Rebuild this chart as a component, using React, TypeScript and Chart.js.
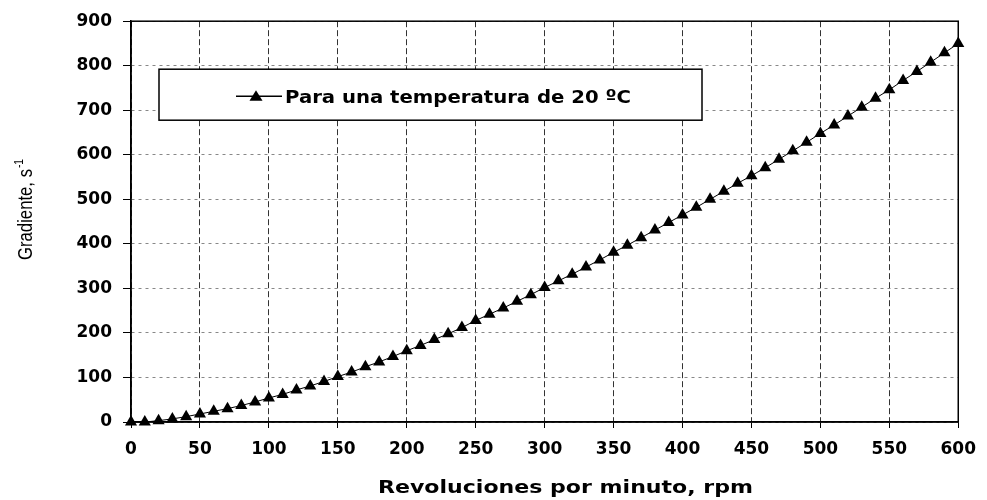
import React, { useEffect, useRef } from "react";
import { Chart, registerables } from "chart.js";

Chart.register(...registerables);

const rpm = [
  0, 10, 20, 30, 40, 50, 60, 70, 80, 90,
  100, 110, 120, 130, 140, 150, 160, 170, 180, 190,
  200, 210, 220, 230, 240, 250, 260, 270, 280, 290,
  300, 310, 320, 330, 340, 350, 360, 370, 380, 390,
  400, 410, 420, 430, 440, 450, 460, 470, 480, 490,
  500, 510, 520, 530, 540, 550, 560, 570, 580, 590, 600,
];

const gradiente = [
  0, 0, 3, 7, 12, 18, 24, 30, 37, 45,
  54, 62, 72, 81, 91, 102, 112, 124, 135, 147,
  160, 172, 185, 198, 212, 228, 242, 256, 271, 286,
  302, 317, 332, 348, 364, 381, 397, 414, 431, 448,
  465, 482, 500, 518, 536, 553, 571, 590, 609, 628,
  648, 667, 687, 707, 727, 746, 767, 787, 808, 829, 850,
];

const seriesLabel = "Para una temperatura de 20 ºC";
const xTitle = "Revoluciones por minuto, rpm";
const yTitleMain = "Gradiente, s";
const yTitleSup = "-1";

const FAMILY = "'DejaVu Sans', Verdana, sans-serif";
const NARROW = "'Liberation Sans', Arial, sans-serif";
const tickFont = { family: FAMILY, size: 17, weight: "bold" as const };

function fitText(ctx: CanvasRenderingContext2D, text: string, x: number, y: number, width: number) {
  const w = ctx.measureText(text).width;
  const s = width / w;
  ctx.save();
  ctx.translate(x, y);
  ctx.scale(s, 1);
  ctx.fillText(text, 0, 0);
  ctx.restore();
  return s;
}

const decorations = {
  id: "decorations",
  afterDatasetsDraw(chart: any) {
    const { ctx, chartArea } = chart;
    ctx.save();
    ctx.setLineDash([]);
    // plot frame
    ctx.strokeStyle = "#000";
    ctx.lineWidth = 1.5;
    ctx.strokeRect(chartArea.left, chartArea.top, chartArea.right - chartArea.left, chartArea.bottom - chartArea.top);
    // legend box
    const bx = chartArea.left + 28;
    const by = chartArea.top + 48;
    const bw = 543;
    const bh = 51;
    ctx.fillStyle = "#fff";
    ctx.fillRect(bx, by, bw, bh);
    ctx.lineWidth = 1.5;
    ctx.strokeRect(bx, by, bw, bh);
    const cy = by + 27;
    ctx.lineWidth = 1.5;
    ctx.beginPath();
    ctx.moveTo(bx + 77, cy);
    ctx.lineTo(bx + 123, cy);
    ctx.stroke();
    const tx = bx + 97;
    ctx.fillStyle = "#000";
    ctx.beginPath();
    ctx.moveTo(tx, cy - 6);
    ctx.lineTo(tx + 6.5, cy + 4.5);
    ctx.lineTo(tx - 6.5, cy + 4.5);
    ctx.closePath();
    ctx.fill();
    ctx.font = `bold 18px ${FAMILY}`;
    ctx.textAlign = "left";
    ctx.textBaseline = "alphabetic";
    fitText(ctx, seriesLabel, bx + 126, cy + 7, 346);

    // x title
    ctx.font = `bold 18px ${FAMILY}`;
    fitText(ctx, xTitle, 378, 493, 375);

    // y title (rotated)
    ctx.save();
    ctx.translate(32, 260);
    ctx.rotate(-Math.PI / 2);
    ctx.font = `20px ${NARROW}`;
    fitText(ctx, yTitleMain, 0, 0, 91);
    ctx.font = `12px ${NARROW}`;
    fitText(ctx, yTitleSup, 92, -9, 9);
    ctx.restore();
    ctx.restore();
  },
};

export default function App() {
  const ref = useRef<HTMLCanvasElement>(null);
  useEffect(() => {
    if (!ref.current) return;
    const chart = new Chart(ref.current, {
      type: "line",
      data: {
        datasets: [
          {
            label: seriesLabel,
            data: rpm.map((x, i) => ({ x, y: gradiente[i] })),
            borderColor: "#000",
            borderWidth: 1,
            backgroundColor: "#000",
            pointStyle: "triangle",
            pointRadius: 7,
            pointBackgroundColor: "#000",
            pointBorderColor: "#000",
            pointBorderWidth: 0,
            tension: 0,
            clip: false,
          } as any,
        ],
      },
      options: {
        responsive: false,
        animation: false,
        layout: { padding: { top: 15, right: 26, left: 0, bottom: 0 } },
        plugins: { legend: { display: false }, tooltip: { enabled: false } },
        scales: {
          x: {
            type: "linear",
            min: 0,
            max: 600,
            afterFit: (s: any) => { s.height = 78; },
            ticks: { stepSize: 50, color: "#000", font: tickFont, padding: 11, maxRotation: 0 },
            grid: {
              color: "#333",
              lineWidth: 1,
              tickColor: "#000",
              tickLength: 6,
              tickBorderDash: [],
            } as any,
            border: { display: true, color: "#000", width: 1.5, dash: [6, 3] } as any,
            title: { display: false },
          },
          y: {
            min: 0,
            max: 900,
            afterFit: (s: any) => { s.width = 131; },
            ticks: { stepSize: 100, color: "#000", font: tickFont, padding: 11 },
            grid: {
              color: "#888",
              lineWidth: 1,
              tickColor: "#000",
              tickLength: 8,
              tickBorderDash: [],
            } as any,
            border: { display: true, color: "#000", width: 1.5, dash: [3, 4] } as any,
            title: { display: false },
          },
        },
      },
      plugins: [decorations],
    });
    return () => chart.destroy();
  }, []);
  return (
    <div style={{ position: "absolute", left: 0, top: 0, width: 987, height: 500, background: "#fff" }}>
      <canvas ref={ref} width={987} height={500} />
    </div>
  );
}
